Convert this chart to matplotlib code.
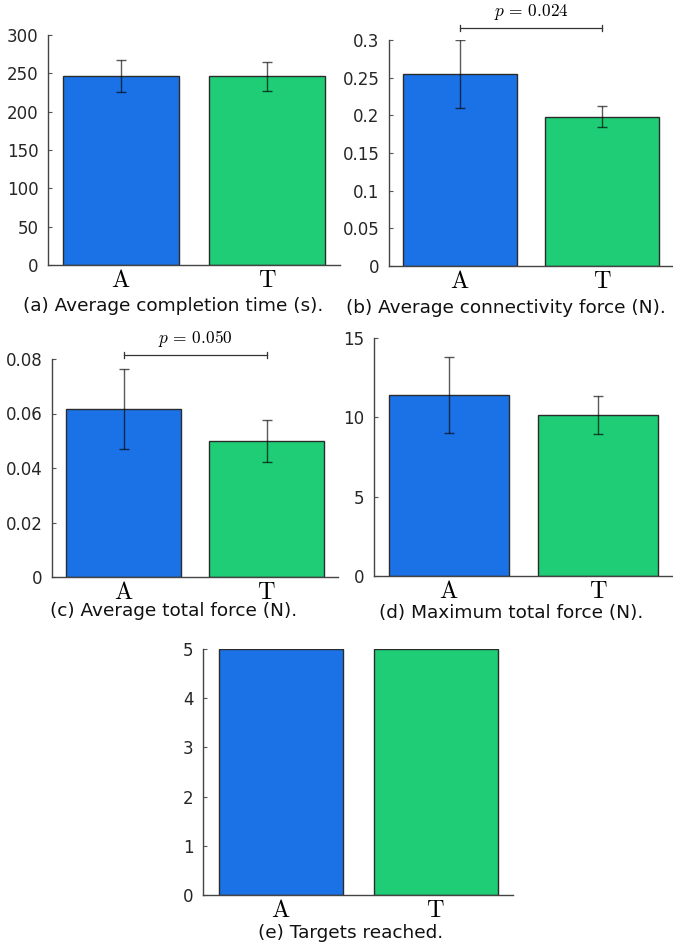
import numpy as np
import matplotlib
matplotlib.use('Agg')
import matplotlib.pyplot as plt
from matplotlib.ticker import FuncFormatter, MultipleLocator

plt.rcParams['font.family'] = ['DejaVu Sans']
plt.rcParams['mathtext.fontset'] = 'cm'

# dados
grupos = ['A', 'T']
cores = ['#1b72e6', '#1ecd76']

tempo_media = [247, 246]
tempo_erro = [21, 19]

conect_media = [0.255, 0.198]
conect_erro = [0.045, 0.014]

total_media = [0.0617, 0.0499]
total_erro = [0.0148, 0.0078]

maximo_media = [11.4, 10.12]
maximo_erro = [2.4, 1.2]

alvos = [5, 5]

p_conect = 0.024
p_total = 0.050

fig = plt.figure(figsize=(6.73, 9.5), dpi=100)


def painel(rect, medias, erros, ylim, passo, legenda, pos_legenda, p=None, y_p=None):
    ax = fig.add_axes(rect)
    x = np.arange(len(grupos))
    ax.bar(x, medias, width=0.8, color=cores, edgecolor='#2b2b2b', linewidth=1.0, zorder=2)
    if erros is not None:
        ax.errorbar(x, medias, yerr=erros, fmt='none', ecolor='black', alpha=0.65,
                    elinewidth=1.0, capsize=3.4, capthick=1.0, zorder=3)
    ax.set_xlim(-0.5, 1.5)
    ax.set_ylim(*ylim)
    ax.yaxis.set_major_locator(MultipleLocator(passo))
    ax.yaxis.set_major_formatter(FuncFormatter(lambda v, pos: '%g' % round(v, 6)))
    ax.set_xticks(x)
    ax.set_xticklabels([r'$\mathrm{%s}$' % g for g in grupos], fontsize=17.5)
    ax.tick_params(axis='x', length=0, pad=2)
    ax.tick_params(axis='y', direction='in', length=3, pad=7, labelsize=12,
                   labelcolor='#262626', color='#555555')
    for s in ['top', 'right']:
        ax.spines[s].set_visible(False)
    for s in ['left', 'bottom']:
        ax.spines[s].set_color('#444444')
        ax.spines[s].set_linewidth(1.0)
    if p is not None:
        d = (ylim[1] - ylim[0]) * 0.015
        ax.plot([x[0], x[1]], [y_p, y_p], color='#333333', lw=0.9, clip_on=False)
        for xi in x:
            ax.plot([xi, xi], [y_p - d, y_p + d], color='#333333', lw=0.9, clip_on=False)
        ax.annotate(r'$p\,=\,%.3f$' % p, xy=(x.mean(), y_p), xytext=(0, 4),
                    textcoords='offset points', ha='center', va='bottom',
                    fontsize=12.5, annotation_clip=False)
    fig.text(pos_legenda[0] / 673, 1 - pos_legenda[1] / 950, legenda, ha='center',
             va='center', fontsize=13.3, color='#111111')
    return ax


painel([48 / 673, 1 - 265 / 950, 292 / 673, 230 / 950], tempo_media, tempo_erro,
       (0, 300), 50, '(a) Average completion time (s).', (173, 306))
painel([389 / 673, 1 - 266 / 950, 284 / 673, 226 / 950], conect_media, conect_erro,
       (0, 0.3), 0.05, '(b) Average connectivity force (N).', (506, 308),
       p=p_conect, y_p=0.316)
painel([52 / 673, 1 - 577 / 950, 286 / 673, 218 / 950], total_media, total_erro,
       (0, 0.08), 0.02, '(c) Average total force (N).', (174, 611),
       p=p_total, y_p=0.0815)
painel([374 / 673, 1 - 576 / 950, 299 / 673, 238 / 950], maximo_media, maximo_erro,
       (0, 15), 5, '(d) Maximum total force (N).', (511, 613))
painel([203 / 673, 1 - 895 / 950, 310 / 673, 246 / 950], alvos, None,
       (0, 5), 1, '(e) Targets reached.', (351, 933))

fig.savefig('out.png', dpi=100)
